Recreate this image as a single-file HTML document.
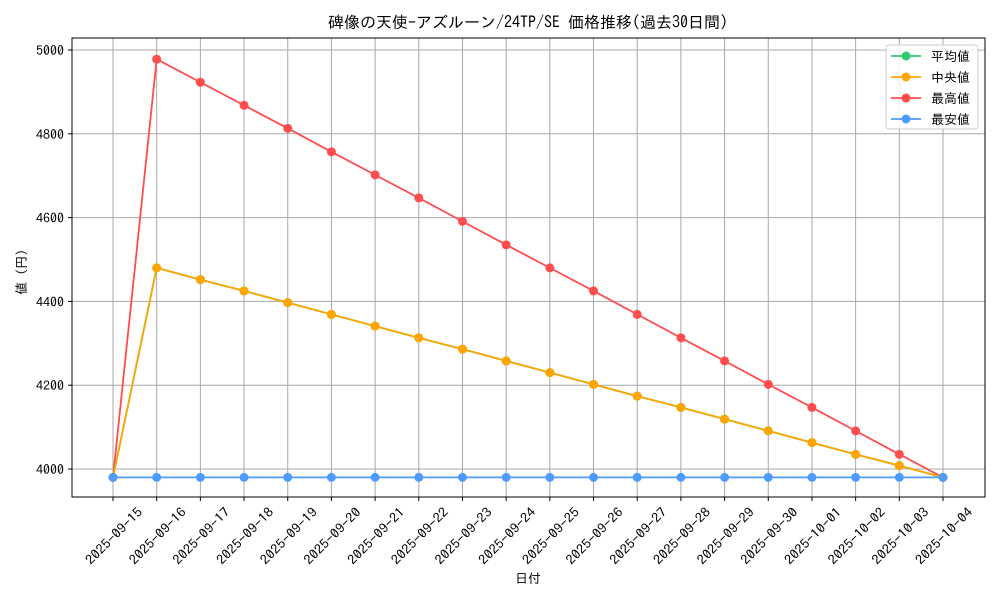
<!DOCTYPE html>
<html><head><meta charset="utf-8"><style>
body{margin:0;background:#fff;}
svg{display:block;font-family:"IPAGothic","Liberation Sans","Noto Sans CJK JP",sans-serif;}
</style></head><body>
<svg id="c" width="1000" height="600" viewBox="0 0 1000 600"></svg>
<script>
const dates=["2025-09-15","2025-09-16","2025-09-17","2025-09-18","2025-09-19","2025-09-20","2025-09-21","2025-09-22","2025-09-23","2025-09-24","2025-09-25","2025-09-26","2025-09-27","2025-09-28","2025-09-29","2025-09-30","2025-10-01","2025-10-02","2025-10-03","2025-10-04"];
const meanVals=[3980,4480,4452,4425,4397,4369,4341,4313,4286,4258,4230,4202,4174,4147,4119,4091,4063,4035,4008,3980];
const medianVals=[3980,4480,4452,4425,4397,4369,4341,4313,4286,4258,4230,4202,4174,4147,4119,4091,4063,4035,4008,3980];
const maxVals=[3980,4978,4923,4868,4813,4757,4702,4647,4591,4535,4480,4425,4369,4313,4258,4202,4147,4091,4035,3980];
const minVals=[3980,3980,3980,3980,3980,3980,3980,3980,3980,3980,3980,3980,3980,3980,3980,3980,3980,3980,3980,3980];
const yTicks=[4000,4200,4400,4600,4800,5000];
const NS="http://www.w3.org/2000/svg";
const svg=document.getElementById('c');
const L=72,R=985,T=38,B=497;
const x0=113,x1=943;
function xs(i){return x0+(x1-x0)*i/(dates.length-1);}
function ys(v){return 469-(v-4000)*0.419;}
function mk(t,a,p){const e=document.createElementNS(NS,t);for(const k in a)e.setAttribute(k,a[k]);(p||svg).appendChild(e);return e;}
dates.forEach((d,i)=>{const g=mk('line',{x1:xs(i),x2:xs(i),y1:T,y2:B,stroke:'#a8a8a8','stroke-width':1});

});
yTicks.forEach(v=>{const g=mk('line',{x1:L,x2:R,y1:ys(v),y2:ys(v),stroke:'#a8a8a8','stroke-width':1});

});
const frame=mk('rect',{x:L,y:T,width:R-L,height:B-T,fill:'none',stroke:'#000','stroke-width':1});


yTicks.forEach(v=>{mk('line',{x1:L-4,x2:L,y1:ys(v),y2:ys(v),stroke:'#000'});
const t=mk('text',{x:L-8,y:ys(v)+5,'text-anchor':'end','font-size':13,textLength:28,lengthAdjust:'spacingAndGlyphs'});t.textContent=v;

});
dates.forEach((d,i)=>{mk('line',{x1:xs(i),x2:xs(i),y1:B,y2:B+4,stroke:'#000'});
const cx=xs(i)+1,cy=536;
const t=mk('text',{x:cx,y:cy+4.5,'text-anchor':'middle','font-size':13,textLength:74,lengthAdjust:'spacingAndGlyphs',transform:`rotate(-45 ${cx} ${cy})`});t.textContent=d;

});
const series=[[meanVals,'#2ecc71','平均値'],[medianVals,'#ffa500','中央値'],[maxVals,'#ff4d4d','最高値'],[minVals,'#4d9bff','最安値']];
const order=[2,0,1,3];
order.forEach(si=>{const [vals,col,name]=series[si];
const p=mk('polyline',{points:vals.map((v,i)=>xs(i)+','+ys(v)).join(' '),fill:'none',stroke:col,'stroke-width':1.8});


vals.forEach((v,i)=>{const c=mk('circle',{cx:xs(i),cy:ys(v),r:4.5,fill:col});

});});
const lg=mk('rect',{x:886,y:45,width:92,height:84,fill:'#fff',stroke:'#ccc',rx:3,'fill-opacity':0.85});


series.forEach(([v,col,name],k)=>{const y=56+k*21;
mk('line',{x1:891,x2:921,y1:y,y2:y,stroke:col,'stroke-width':1.8});
mk('circle',{cx:906,cy:y,r:4.5,fill:col});
const t=mk('text',{x:931,y:y+5,'font-size':13});t.textContent=name;

});
const ti=mk('text',{x:528,y:28,'text-anchor':'middle','font-size':16});ti.textContent='碑像の天使-アズルーン/24TP/SE 価格推移(過去30日間)';


const xl=mk('text',{x:528,y:583,'text-anchor':'middle','font-size':13});xl.textContent='日付';


const yl=mk('text',{x:26,y:272,'text-anchor':'middle','font-size':13,transform:'rotate(-90 26 272)'});yl.textContent='値 (円)';


</script>
</body></html>
